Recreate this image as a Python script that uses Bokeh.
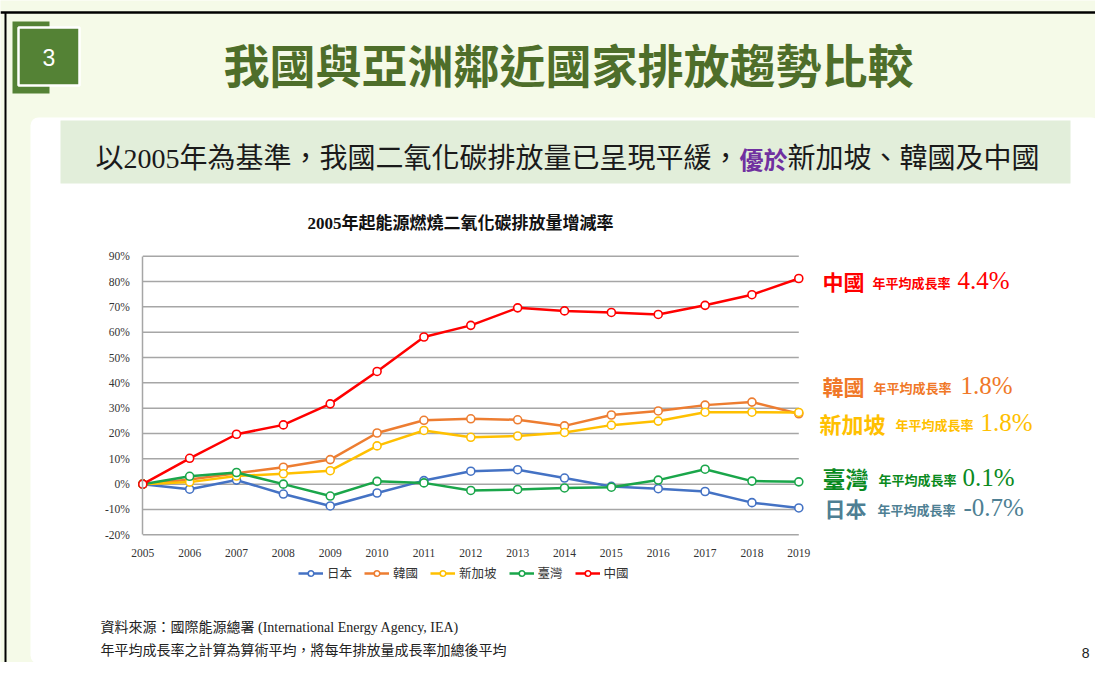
from bokeh.plotting import figure
from bokeh.models import (Range1d, LinearAxis, FixedTicker, PrintfTickFormatter,
                          Legend, LegendItem)
from bokeh.core.properties import value
from bokeh.embed import file_html
from bokeh.resources import INLINE

# ---------------- data ----------------
years = [2005, 2006, 2007, 2008, 2009, 2010, 2011, 2012, 2013, 2014, 2015, 2016, 2017, 2018, 2019]
japan = [0, -2.0, 1.6, -3.9, -8.6, -3.5, 1.4, 5.1, 5.7, 2.4, -0.9, -1.8, -2.9, -7.3, -9.4]
korea = [0, 1.8, 4.3, 6.7, 9.7, 20.2, 25.2, 25.8, 25.4, 23.0, 27.3, 28.9, 31.2, 32.4, 27.8]
singapore = [0, 0.8, 3.2, 4.1, 5.3, 15.1, 21.2, 18.5, 19.0, 20.4, 23.3, 24.9, 28.4, 28.4, 28.3]
taiwan = [0, 3.1, 4.6, 0.0, -4.7, 1.1, 0.5, -2.5, -2.1, -1.5, -1.2, 1.6, 5.9, 1.2, 0.9]
china = [0, 10.2, 19.7, 23.4, 31.7, 44.5, 58.1, 62.7, 69.6, 68.4, 67.8, 67.0, 70.6, 74.8, 81.2]

series_names = ["日本", "韓國", "新加坡", "臺灣", "中國"]
series_values = [japan, korea, singapore, taiwan, china]
y_ticks = [-20, -10, 0, 10, 20, 30, 40, 50, 60, 70, 80, 90]

label_order = ["中國", "韓國", "新加坡", "臺灣", "日本"]
label_rates = ["4.4%", "1.8%", "1.8%", "0.1%", "-0.7%"]
rate_caption = "年平均成長率"

slide_title = "我國與亞洲鄰近國家排放趨勢比較"
sub_part1 = "以2005年為基準，我國二氧化碳排放量已呈現平緩，"
sub_part2 = "優於"
sub_part3 = "新加坡、韓國及中國"
chart_title = "2005年起能源燃燒二氧化碳排放量增減率"
note1 = "資料來源：國際能源總署 (International Energy Agency, IEA)"
note2 = "年平均成長率之計算為算術平均，將每年排放量成長率加總後平均"
page_no = "8"

# ---------------- styles ----------------
line_colors = ["#4472C4", "#ED7D31", "#FFC000", "#1AA64A", "#FF0000"]
label_colors = ["#FF0000", "#F07828", "#FFC000", "#0A8A1E", "#4E7F93"]
BG = "#F5FAE8"
GREEN = "#548235"
TITLE_GREEN = "#4E6E2A"
CJK = "Noto Sans CJK TC"
MIX = "Liberation Serif, Noto Sans CJK TC"

W, H = 1095, 662
OFF = 0  # picture pixels = canvas pixels

# chart placement in reference pixels
X2005, X2019 = 142.3, 798.3
Y90, YM20 = 255.7, 534.3
sx = (X2019 - X2005) / (2019 - 2005)
sy = (YM20 - Y90) / (90 - (-20))
cx0 = X2005 - OFF
cy90 = Y90 - OFF
x_start = 2005 - cx0 / sx
x_end = 2005 + (W - cx0) / sx
y_end = 90 + cy90 / sy
y_start = 90 - (H - cy90) / sy

p = figure(width=W, height=H, x_range=Range1d(x_start, x_end), y_range=Range1d(y_start, y_end),
           output_backend="svg", toolbar_location=None, min_border=0,
           x_axis_location=None, y_axis_location=None,
           background_fill_color=BG, border_fill_color=BG, outline_line_color=None)
for g in p.grid:
    g.visible = False

p.extra_x_ranges = {"px": Range1d(OFF, OFF + W)}
p.extra_y_ranges = {"px": Range1d(OFF + H, OFF)}
PX = dict(x_range_name="px", y_range_name="px")

# ---------------- slide decorations ----------------
p.quad(left=[30], right=[1099], top=[117], bottom=[663], fill_color="white", line_color=None,
       border_radius=8, **PX)
p.quad(left=[60], right=[1070], top=[120], bottom=[183], fill_color="#E2EEDA", line_color=None, **PX)
p.segment(x0=[0], y0=[12], x1=[W], y1=[12], line_color="black", line_width=2.5, **PX)
p.segment(x0=[5], y0=[12], x1=[5], y1=[H], line_color="black", line_width=2, **PX)
p.quad(left=[12], right=[49], top=[21], bottom=[93], fill_color=GREEN, line_color=None, **PX)
p.quad(left=[18], right=[79], top=[27], bottom=[85], fill_color=GREEN, line_color="white",
       line_width=2.5, **PX)
p.text(x=[48.5], y=[57], text=["3"], text_font=value("Liberation Sans"), text_font_size="23px",
       text_color="white", text_align="center", text_baseline="middle", **PX)
p.text(x=[568], y=[62], text=[slide_title], text_font=value(CJK), text_font_size="46px",
       text_font_style="bold", text_color=TITLE_GREEN, text_align="center",
       text_baseline="middle", **PX)

# subtitle (three pieces, widths from em metrics)
fs_sub, fs_em = 28, 24
sub_x0 = 95
w1 = 21 * fs_sub + 4 * fs_sub * 0.5
w2 = 2 * fs_em
p.text(x=[sub_x0], y=[158], text=[sub_part1], text_font=value(MIX), text_font_size=f"{fs_sub}px",
       text_color="#1A1A1A", text_align="left", text_baseline="middle", **PX)
p.text(x=[sub_x0 + w1], y=[158], text=[sub_part2], text_font=value(CJK), text_font_size=f"{fs_em}px",
       text_font_style="bold", text_color="#7030A0", text_align="left", text_baseline="middle", **PX)
p.text(x=[sub_x0 + w1 + w2], y=[158], text=[sub_part3], text_font=value(MIX),
       text_font_size=f"{fs_sub}px", text_color="#1A1A1A", text_align="left",
       text_baseline="middle", **PX)

p.text(x=[460], y=[223], text=[chart_title], text_font=value(MIX), text_font_size="17px",
       text_font_style="bold", text_color="#111111", text_align="center", text_baseline="middle", **PX)

# ---------------- chart ----------------
p.segment(x0=[years[0]] * len(y_ticks), x1=[years[-1]] * len(y_ticks), y0=y_ticks, y1=y_ticks,
          line_color="#A6A6A6", line_width=1.5)

yaxis = LinearAxis(fixed_location=2005, bounds=(-20, 90), ticker=FixedTicker(ticks=y_ticks),
                   formatter=PrintfTickFormatter(format="%d%%"),
                   axis_line_color="#A6A6A6", axis_line_width=1.5,
                   major_tick_line_color=None, minor_tick_line_color=None,
                   major_label_standoff=7, major_label_text_font="Liberation Serif",
                   major_label_text_font_size="11.5px", major_label_text_color="#333333")
p.add_layout(yaxis, "left")

xaxis = LinearAxis(fixed_location=-20, bounds=(2005, 2019), ticker=FixedTicker(ticks=years),
                   axis_line_color=None, major_tick_line_color=None, minor_tick_line_color=None,
                   major_label_standoff=8, major_label_text_font="Liberation Serif",
                   major_label_text_font_size="11.5px", major_label_text_color="#333333")
p.add_layout(xaxis, "below")

items = []
for name, vals, col in zip(series_names, series_values, line_colors):
    lr = p.line(years, vals, line_color=col, line_width=2.5)
    sr = p.scatter(years, vals, marker="circle", size=8, fill_color="white", line_color=col,
                   line_width=1.6)
    items.append(LegendItem(label=name, renderers=[lr, sr]))

leg_h = 14
legend = Legend(items=items, orientation="horizontal",
                location=(298 - OFF, H - (575 + leg_h / 2 - OFF)),
                glyph_width=25, glyph_height=leg_h, label_height=leg_h, label_standoff=4,
                spacing=12, padding=0, margin=0, border_line_color=None,
                background_fill_alpha=0, label_text_font=CJK, label_text_font_size="12.5px",
                label_text_color="#333333")
p.add_layout(legend, "center")

# ---------------- right-hand labels ----------------
name_x = [822, 822, 819, 822, 824]
name_y = [280, 385, 422, 477, 507]
name_fs = [21, 21, 22, 23, 21]
cap_x = [872, 873, 895, 878, 877]
rate_x = [957, 960, 980, 962, 963]
for i in range(len(label_order)):
    p.text(x=[name_x[i]], y=[name_y[i]], text=[label_order[i]], text_font=value(CJK),
           text_font_size=f"{name_fs[i]}px", text_font_style="bold", text_color=label_colors[i],
           text_align="left", text_baseline="middle", **PX)
    p.text(x=[cap_x[i]], y=[name_y[i] + 2], text=[rate_caption], text_font=value(CJK),
           text_font_size="13px", text_font_style="bold", text_color=label_colors[i],
           text_align="left", text_baseline="middle", **PX)
    p.text(x=[rate_x[i]], y=[name_y[i]], text=[label_rates[i]], text_font=value("Liberation Serif"),
           text_font_size="25px", text_color=label_colors[i], text_align="left",
           text_baseline="middle", **PX)

# ---------------- footnotes ----------------
p.text(x=[100, 100], y=[627, 650], text=[note1, note2], text_font=value(MIX), text_font_size="14px",
       text_color="#222222", text_align="left", text_baseline="middle", **PX)
p.text(x=[1089], y=[652], text=[page_no], text_font=value("Liberation Sans"), text_font_size="14px",
       text_color="#222222", text_align="right", text_baseline="middle", **PX)

open("out.html", "w").write(file_html(p, INLINE))
